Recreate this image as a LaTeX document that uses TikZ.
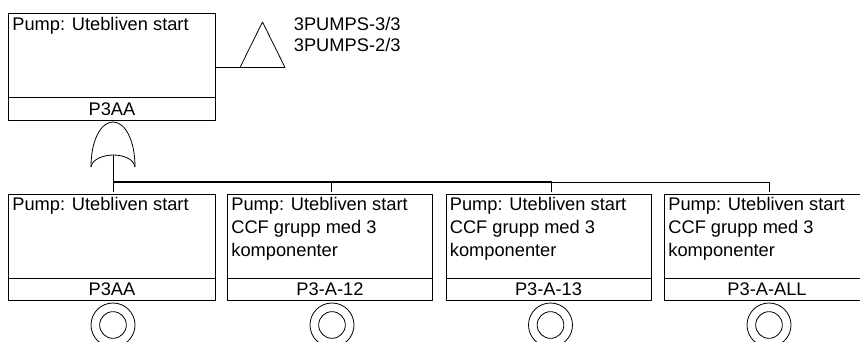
\documentclass[tikz,border=0pt]{standalone}
\usepackage{fontspec}
\setmainfont{Liberation Sans}
\usetikzlibrary{positioning}
\tikzset{
	descbox/.style={draw, rectangle, outer sep=0pt, inner sep=0pt, minimum width=153.75pt, minimum height=63pt, anchor=north west},
	idbox/.style={draw, rectangle, outer sep=0pt, inner sep=0pt, minimum width=153.75pt, minimum height=16.9pt, font=\fontsize{13.7}{16}\selectfont},
	desctext/.style={anchor=north west, inner xsep=2.6pt, inner ysep=2.4pt, align=left, font=\fontsize{13.7}{17.25}\selectfont},
	pumpouter/.style={draw, circle, inner sep=0pt, minimum size=33pt},
	pumpinner/.style={draw, circle, inner sep=0pt, minimum size=20pt},
}
\begin{document}
\begin{tikzpicture}[x=0.75pt, y=-0.75pt, line width=0.6pt, line join=round]
	\path[use as bounding box, clip] (0,0) rectangle (860,342);
	% top event
	\node[descbox, minimum width=155.25pt] (top) at (8.5,13.5) {};
	\node[idbox, minimum width=155.25pt, below=0pt of top] (topid) {P3AA};
	\node[desctext] (toptext) at (top.north west) {Pump: Utebliven start};
	% transfer triangle
	\coordinate (trileft) at (240,67.5);
	\coordinate (triright) at (285,67.5);
	\coordinate (triapex) at (262.5,22);
	\draw (trileft) -- (triapex) -- (triright) -- cycle;
	\draw (top.east |- trileft) -- (trileft);
	\node[anchor=north west, inner sep=0pt, align=left, font=\fontsize{13.7}{16.2}\selectfont] (trilabel) at (293.5,16.5) {3PUMPS-3/3\\3PUMPS-2/3};
	% or gate
	\coordinate (orleft) at (91,167);
	\coordinate (orright) at (135,167);
	\coordinate (orapex) at (113,122);
	\coordinate (orin) at (113.5,155);
	\coordinate (orout) at (113.5,167);
	\draw (orleft) .. controls (91,140) and (101,122) .. (orapex) .. controls (125,122) and (135,140) .. (orright);
	\draw (orleft) .. controls (92,159) and (104,155) .. (orin) .. controls (123,155) and (134,159) .. (orright);
	% basic events
	\node[descbox, minimum width=155.25pt] (p3aa) at (8.5,194) {};
	\node[idbox, minimum width=155.25pt, below=0pt of p3aa] (p3aaid) {P3AA};
	\node[desctext] (p3aatext) at (p3aa.north west) {Pump: Utebliven start};
	\node[pumpouter] (p3aaout) at (113,325) {};
	\node[pumpinner] (p3aain) at (113,325) {};
	\foreach \evname/\xpos/\evlabel in {p12/227.5/P3-A-12, p13/446/P3-A-13, pall/664.5/P3-A-ALL}{
		\node[descbox] (\evname) at (\xpos,194) {};
		\node[idbox, below=0pt of \evname] (\evname id) {\evlabel};
		\node[desctext] (\evname text) at (\evname.north west) {Pump: Utebliven start\\CCF grupp med 3\\komponenter};
		\node[pumpouter] (\evname out) at (\xpos+104.5,325) {};
		\node[pumpinner] (\evname in) at (\xpos+104.5,325) {};
	}
	% connectors
	\coordinate (busleft) at (113.5,182);
	\coordinate (busmid) at (551.5,182);
	\coordinate (busright) at (769.5,182);
	\draw (orin) -- (orout);
	\draw[line width=1.1pt] (orout) -- (busleft) -- (busmid);
	\draw (busmid) -- (busright);
	\draw[shorten >=1.5pt] (busleft) -- (busleft |- p3aa.north);
	\draw[shorten >=1.5pt] (331.5,182) -- (331.5,194);
	\draw[shorten >=1.5pt] (busmid) -- (busmid |- p13.north);
	\draw[shorten >=1.5pt] (busright) -- (busright |- pall.north);
\end{tikzpicture}
\end{document}
